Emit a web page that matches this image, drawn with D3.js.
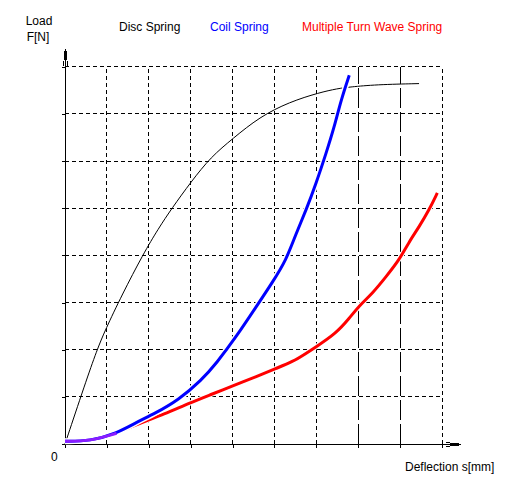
<!DOCTYPE html>
<html><head><meta charset="utf-8">
<script src="https://cdn.jsdelivr.net/npm/d3@7"></script>
<style>
html,body{margin:0;padding:0;background:#fff;}
text{font-family:"Liberation Sans",Arial,sans-serif;font-size:12px;}
</style></head>
<body>
<svg id="c" width="524" height="492"></svg>
<script>
// Deflection (grid units) and load (grid units)
const discX = [0,0.483,0.762,0.96,1.357,1.874,2.231,2.548,3.007,3.483,4.007,4.643,5.357,6.071,6.507,6.802,7.421,8.452];
const discY = [0,1.286,1.992,2.415,3.157,4.04,4.57,4.994,5.557,6.087,6.477,6.934,7.252,7.451,7.536,7.57,7.62,7.642];
const coilX = [0,0.595,1.231,1.707,2.15,2.707,3.262,3.612,4.088,4.564,4.96,5.279,5.517,5.755,5.993,6.231,6.429,6.588,6.786];
const coilY = [0.06,0.06,0.227,0.46,0.65,0.932,1.356,1.71,2.273,2.909,3.439,3.898,4.464,4.958,5.523,6.159,6.722,7.288,7.818];
const waveX = [0,0.595,1.231,1.864,2.34,2.976,3.531,4.007,4.564,5.04,5.436,5.755,5.993,6.469,6.786,7.024,7.34,7.66,7.976,8.214,8.452,8.69,8.888];
const waveY = [0.06,0.06,0.227,0.47,0.62,0.87,1.064,1.235,1.426,1.604,1.744,1.922,2.061,2.345,2.663,2.934,3.193,3.544,3.898,4.286,4.604,4.958,5.324];
const seriesNames = ["Disc Spring","Coil Spring","Multiple Turn Wave Spring"];
const xGrid = [1,2,3,4,5,6,7,8,9];
const yGrid = [1,2,3,4,5,6,7,8];
const longDashX = [7,8];

const svg = d3.select("#c");
const x = d3.scaleLinear().domain([0,9]).range([65,442]);
const y = d3.scaleLinear().domain([0,8]).range([444,66.7]);

// grid
svg.append("g").selectAll("line").data(yGrid).join("line")
  .attr("x1",x(0)).attr("x2",x(9)).attr("y1",d=>y(d)).attr("y2",d=>y(d))
  .attr("stroke","#000").attr("stroke-width",1).attr("stroke-dasharray","4,3")
  .attr("shape-rendering","crispEdges");
svg.append("g").selectAll("line").data(xGrid).join("line")
  .attr("x1",d=>x(d)).attr("x2",d=>x(d)).attr("y1",y(0)).attr("y2",y(8))
  .attr("stroke","#000").attr("stroke-width",1)
  .attr("stroke-dasharray",d=>longDashX.includes(d)?"20,4":"4,3")
  .attr("shape-rendering","crispEdges");

// axes ticks
const xa = d3.axisBottom(x).tickValues([0].concat(xGrid)).tickSize(4).tickFormat("");
const gx = svg.append("g").attr("transform",`translate(0,${y(0)})`).call(xa);
gx.select(".domain").remove();
gx.selectAll("line").attr("shape-rendering","crispEdges");
const ya = d3.axisLeft(y).tickValues([0].concat(yGrid)).tickSize(3).tickFormat("");
const gy = svg.append("g").attr("transform",`translate(${x(0)},0)`).call(ya);
gy.select(".domain").remove();
gy.selectAll("line").attr("shape-rendering","crispEdges");

// axis lines with arrows
svg.append("line").attr("x1",x(0)).attr("x2",x(0)).attr("y1",y(0)).attr("y2",49)
  .attr("stroke","#000").attr("shape-rendering","crispEdges");
svg.append("line").attr("x1",x(0)).attr("x2",x(0)).attr("y1",60).attr("y2",51)
  .attr("stroke","#000").attr("stroke-width",3).attr("shape-rendering","crispEdges");
svg.append("path").attr("d",`M${x(0)-2},66 L${x(0)-2},61 M${x(0)+2},66 L${x(0)+2},61`)
  .attr("stroke","#000").attr("fill","none").attr("shape-rendering","crispEdges");
svg.append("line").attr("x1",x(0)).attr("x2",461).attr("y1",y(0)).attr("y2",y(0))
  .attr("stroke","#000").attr("shape-rendering","crispEdges");
svg.append("line").attr("x1",450).attr("x2",459).attr("y1",y(0)).attr("y2",y(0))
  .attr("stroke","#000").attr("stroke-width",3).attr("shape-rendering","crispEdges");
svg.append("path").attr("d",`M446,${y(0)-2} L450,${y(0)-2} M446,${y(0)+2} L450,${y(0)+2}`)
  .attr("stroke","#000").attr("fill","none").attr("shape-rendering","crispEdges");

const line = d3.line().x(d=>x(d[0])).y(d=>y(d[1])).curve(d3.curveBasis);
const disc = discX.map((v,i)=>[v,discY[i]]);
const coil = coilX.map((v,i)=>[v,coilY[i]]);
const wave = waveX.map((v,i)=>[v,waveY[i]]);

svg.append("path").attr("d",line(disc)).attr("fill","none").attr("stroke","#000").attr("stroke-width",1);
svg.append("path").attr("d",line(wave)).attr("fill","none").attr("stroke","#fff").attr("stroke-width",5);
svg.append("path").attr("d",line(wave)).attr("fill","none").attr("stroke","#ff0000").attr("stroke-width",3);
svg.append("path").attr("d",line(coil)).attr("fill","none").attr("stroke","#fff").attr("stroke-width",6);
svg.append("path").attr("d",line(coil)).attr("fill","none").attr("stroke","#0000ff").attr("stroke-width",3);
// shared start segment where coil and wave coincide
const shared = coil.filter((p,i)=>wave[i] && wave[i][0]===p[0] && wave[i][1]===p[1]);
svg.append("path").attr("d",line(shared)).attr("fill","none").attr("stroke","#8a1cff").attr("stroke-width",3);

// texts
const t = (s,xx,yy,c,anchor)=>svg.append("text").attr("x",xx).attr("y",yy).attr("fill",c||"#000")
  .attr("text-anchor",anchor||"start").text(s);
t("Load",39,25,"#000","middle");
t("F[N]",38,41,"#000","middle");
t(seriesNames[0],119,31,"#000");
t(seriesNames[1],210,31,"#0000ff");
t(seriesNames[2],302,31,"#ff0000");
t("0",51,461,"#000");
t("Deflection s[mm]",405,471,"#000");
</script>
</body></html>
